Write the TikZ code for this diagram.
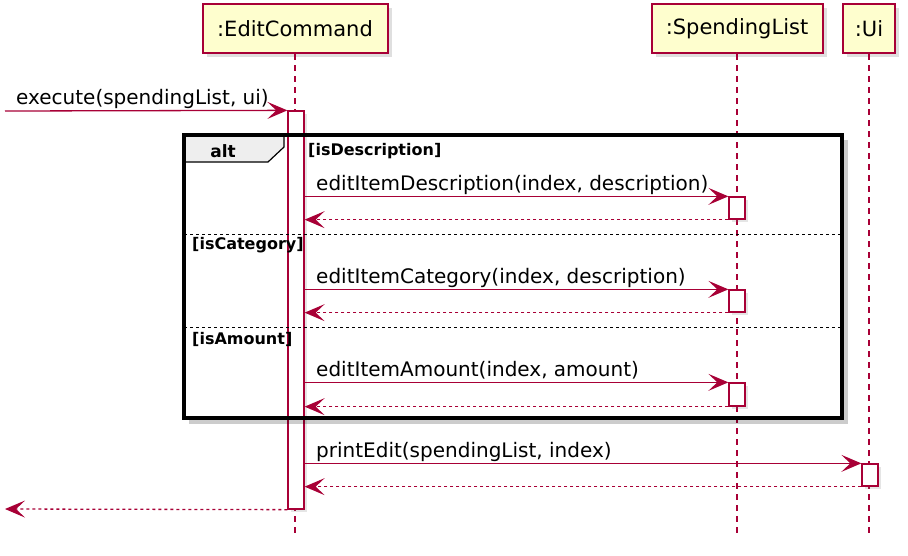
\documentclass[tikz,border=0pt]{standalone}
\usepackage{fontspec}
\setmainfont{DejaVu Sans}
\usetikzlibrary{arrows.meta,shadows}

\definecolor{umlred}{HTML}{A80036}
\definecolor{umlfill}{HTML}{FEFECE}
\definecolor{tabgray}{HTML}{EEEEEE}

\tikzset{
  participant/.style={draw=umlred, fill=umlfill, line width=2pt, minimum height=49pt,
    inner sep=0pt, font=\fontsize{21}{25}\selectfont,
    drop shadow={shadow xshift=4pt, shadow yshift=-4pt, opacity=0.25}},
  lifeline/.style={umlred, line width=1.3pt, dash pattern=on 6pt off 5pt},
  activation/.style={draw=umlred, fill=white, line width=1.3pt, minimum width=16pt,
    inner sep=0pt, drop shadow={shadow xshift=3pt, shadow yshift=-3pt, opacity=0.2}},
  msg/.style={umlred, line width=1.3pt, -{Stealth[length=20pt,width=17pt,inset=9pt]}},
  reply/.style={msg, dash pattern=on 3pt off 3pt},
  msglabel/.style={anchor=base west, inner sep=0pt, font=\fontsize{20}{24}\selectfont},
  guard/.style={anchor=west, inner sep=0pt, font=\fontsize{16}{19}\selectfont\bfseries},
  altframe/.style={draw=black, line width=3.5pt},
  frameshadow/.style={black, opacity=0.2, line width=4pt},
  tab/.style={draw=black, fill=tabgray, line width=1.2pt},
  guardsep/.style={black, line width=1pt, dash pattern=on 3pt off 3pt},
}

\begin{document}
\begin{tikzpicture}[x=1pt, y=-1pt]
  \useasboundingbox[fill=white] (0,0) rectangle (908,555);

  % Participants
  \node[participant, minimum width=185pt] (ec) at (295,28.5) {:EditCommand};
  \node[participant, minimum width=171pt] (sl) at (737,28.5) {:SpendingList};
  \node[participant, minimum width=52pt] (ui) at (869,28.5) {:Ui};

  % Lifelines
  \coordinate (ecEnd) at (295,535);
  \coordinate (slEnd) at (737,535);
  \coordinate (uiEnd) at (869,535);
  \draw[lifeline] (ec.south) -- (ecEnd);
  \draw[lifeline] (sl.south) -- (slEnd);
  \draw[lifeline] (ui.south) -- (uiEnd);

  % Activations
  \node[activation, minimum height=398pt] (actEC) at (296,310) {};
  \node[activation, minimum height=22pt] (actSL1) at (737,208) {};
  \node[activation, minimum height=22pt] (actSL2) at (737,301) {};
  \node[activation, minimum height=23pt] (actSL3) at (737,394.5) {};
  \node[activation, minimum height=22pt] (actUI) at (870,475) {};

  % alt frame
  \coordinate (altNW) at (184,135);
  \coordinate (altSE) at (842,418);
  \draw[frameshadow] (846,140) -- (846,422) -- (189,422);
  \draw[tab] (altNW) -- (284,135) -- (284,147) -- (268,162) -- (184,162) -- cycle;
  \draw[altframe] (altNW) rectangle (altSE);
  \draw[guardsep] (184,234) -- (842,234);
  \draw[guardsep] (184,327) -- (842,327);
  \node[font=\fontsize{17}{20}\selectfont\bfseries] (altlbl) at (223,151) {alt};
  \node[guard] (g1) at (308,151) {[isDescription]};
  \node[guard] (g2) at (192,245) {[isCategory]};
  \node[guard] (g3) at (192,339) {[isAmount]};

  % Messages
  \coordinate (caller) at (5,111);
  \coordinate (back) at (5,509);
  \node[msglabel] (m0) at (16,104) {execute(spendingList, ui)};
  \draw[msg] (caller) -- (actEC.north west);

  \node[msglabel] (m1) at (316,190) {editItemDescription(index, description)};
  \draw[msg] (actEC.east |- actSL1.north) -- (actSL1.north west);
  \draw[reply] (actSL1.south west) -- (actEC.east |- actSL1.south);

  \node[msglabel] (m2) at (316,283) {editItemCategory(index, description)};
  \draw[msg] (actEC.east |- actSL2.north) -- (actSL2.north west);
  \draw[reply] (actSL2.south west) -- (actEC.east |- actSL2.south);

  \node[msglabel] (m3) at (316,376) {editItemAmount(index, amount)};
  \draw[msg] (actEC.east |- actSL3.north) -- (actSL3.north west);
  \draw[reply] (actSL3.south west) -- (actEC.east |- actSL3.south);

  \node[msglabel] (m4) at (316,457) {printEdit(spendingList, index)};
  \draw[msg] (actEC.east |- actUI.north) -- (actUI.north west);
  \draw[reply] (actUI.south west) -- (actEC.east |- actUI.south);

  \draw[reply] (actEC.south west) -- (back);
\end{tikzpicture}
\end{document}
